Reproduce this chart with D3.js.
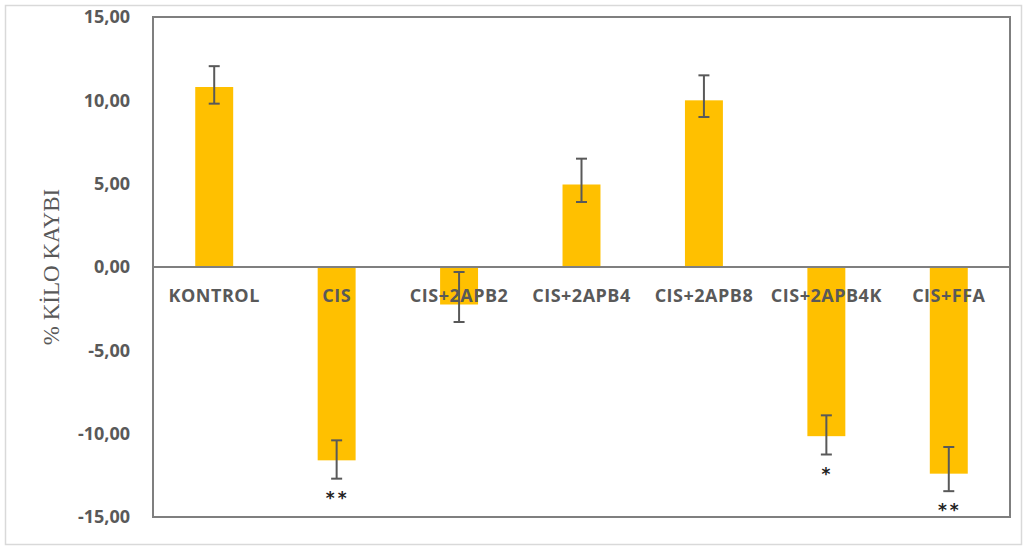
<!DOCTYPE html>
<html><head><meta charset="utf-8">
<script src="https://cdn.jsdelivr.net/npm/d3@7"></script>
<style>body{margin:0;background:#fff;}svg{display:block;}</style>
</head><body>
<script>
const categories = ["KONTROL","CIS","CIS+2APB2","CIS+2APB4","CIS+2APB8","CIS+2APB4K","CIS+FFA"];
const values = [10.8, -11.6, -2.25, 4.95, 10.0, -10.15, -12.4];
const errHigh = [12.05, -10.4, -0.3, 6.5, 11.5, -8.9, -10.8];
const errLow = [9.8, -12.7, -3.3, 3.9, 9.0, -11.25, -13.45];
const stars = ["", "**", "", "", "", "*", "**"];
const yTicks = [-15,-10,-5,0,5,10,15];
const yTitle = "% KİLO KAYBI";

const W = 1027, H = 548;
const m = {left:153, right:1010, top:17, bottom:517};
const svg = d3.select("body").append("svg").attr("width",W).attr("height",H);
svg.append("rect").attr("x",5.5).attr("y",5.5).attr("width",1016).attr("height",539)
  .attr("fill","#fff").attr("stroke","#d9d9d9").attr("stroke-width",1.5);

const x = d3.scaleBand().domain(categories).range([m.left,m.right]).paddingInner(0.69).paddingOuter(0.345);
const y = d3.scaleLinear().domain([-15,15]).range([m.bottom,m.top]);
const fmt = d => d3.format(".2f")(d).replace(".",",").replace("\u2212","-");

// frame
svg.append("rect").attr("x",m.left).attr("y",m.top).attr("width",m.right-m.left).attr("height",m.bottom-m.top)
  .attr("fill","none").attr("stroke","#7f7f7f").attr("stroke-width",2);

// bars
svg.selectAll("rect.bar").data(categories).join("rect").attr("class","bar")
  .attr("x",d=>x(d)).attr("width",x.bandwidth())
  .attr("y",(d,i)=>y(Math.max(0,values[i])))
  .attr("height",(d,i)=>Math.abs(y(values[i])-y(0)))
  .attr("fill","#ffc000");

// zero line
svg.append("line").attr("x1",m.left).attr("x2",m.right).attr("y1",y(0)).attr("y2",y(0))
  .attr("stroke","#7f7f7f").attr("stroke-width",2);

// y axis labels
const yAxis = d3.axisLeft(y).tickValues(yTicks).tickFormat(fmt).tickSize(0).tickPadding(23);
const ga = svg.append("g").attr("transform",`translate(${m.left},0)`).call(yAxis);
ga.select(".domain").remove();
ga.selectAll("text").attr("font-family","'Open Sans', sans-serif").attr("font-weight","bold")
  .attr("font-size",18).attr("fill","#595959");

// category labels
svg.selectAll("text.cat").data(categories).join("text").attr("class","cat")
  .attr("x",d=>x(d)+x.bandwidth()/2).attr("y",y(0)+35)
  .attr("text-anchor","middle").attr("font-family","'Open Sans', sans-serif").attr("font-weight","bold")
  .attr("font-size",18).attr("letter-spacing",0.5).attr("fill","#595959").text(d=>d);

// error bars
const eg = svg.append("g").attr("stroke","#595959").attr("stroke-width",2);
categories.forEach((c,i)=>{
  const cx = x(c)+x.bandwidth()/2;
  eg.append("line").attr("x1",cx).attr("x2",cx).attr("y1",y(errHigh[i])).attr("y2",y(errLow[i]));
  eg.append("line").attr("x1",cx-5.5).attr("x2",cx+5.5).attr("y1",y(errHigh[i])).attr("y2",y(errHigh[i]));
  eg.append("line").attr("x1",cx-5.5).attr("x2",cx+5.5).attr("y1",y(errLow[i])).attr("y2",y(errLow[i]));
});

// stars
svg.selectAll("text.star").data(categories).join("text").attr("class","star")
  .attr("x",d=>x(d)+x.bandwidth()/2+1).attr("y",(d,i)=>y(errLow[i])+25)
  .attr("text-anchor","middle").attr("font-family","'DejaVu Sans', sans-serif").attr("font-weight","bold")
  .attr("font-size",17).attr("letter-spacing",3).attr("fill","#222")
  .text((d,i)=>stars[i]);

// y title
svg.append("text").attr("transform",`translate(59,${y(0)}) rotate(-90)`)
  .attr("text-anchor","middle").attr("font-family","'Liberation Serif', serif")
  .attr("font-size",23).attr("fill","#595959").text(yTitle);
</script>
</body></html>
